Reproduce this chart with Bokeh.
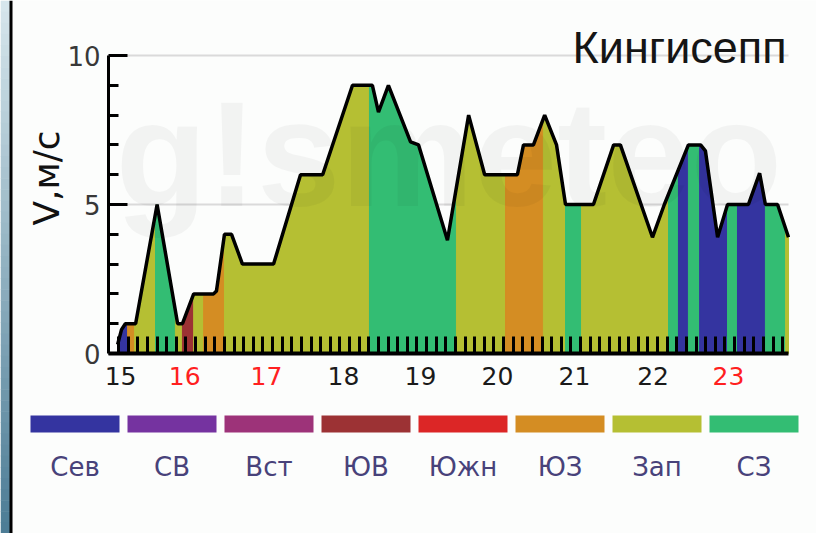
import numpy as np
from bokeh.plotting import figure
from bokeh.models import Range1d, FixedTicker, ColumnDataSource
from bokeh.embed import file_html
from bokeh.resources import INLINE
from bokeh.core.properties import value

# ---- data ----
# wind speed outline: hours since the 15th 00:00, speed in m/s
speed_hours = [1.6, 2.8, 4.0, 7.2, 13.9, 20.3, 21.8, 25.3, 31.5, 32.4,
               34.9, 37.1, 40.5, 50.2, 58.6, 65.5, 74.8, 81.0, 82.9, 86.0,
               92.9, 95.4, 104.4, 111.0, 116.0, 126.2, 128.1, 131.2, 134.7, 138.4,
               141.2, 149.9, 156.2, 158.3, 168.3, 172.0, 179.5, 183.3, 184.8, 188.6,
               191.7, 198.2, 201.7, 203.5, 207.3, 210.7]
speed_ms = [0.3, 0.8, 1.0, 1.0, 5.0, 1.0, 1.0, 2.0, 2.0, 2.1,
            4.0, 4.0, 3.0, 3.0, 6.0, 6.0, 9.0, 9.0, 8.1, 9.0,
            7.1, 7.0, 3.8, 8.0, 6.0, 6.0, 7.0, 7.0, 8.0, 7.0,
            5.0, 5.0, 7.0, 7.0, 3.9, 5.0, 7.0, 7.0, 6.8, 3.9,
            5.0, 5.0, 6.05, 5.0, 5.0, 3.9]

# wind direction bands: start hour and direction
dir_start = [1.6, 4.7, 6.9, 13.4, 19.6, 21.8, 25.3, 28.4, 34.9, 80.1,
             107.2, 122.5, 134.3, 141.2, 146.2, 173.3, 176.4, 179.5, 183.0, 191.7,
             194.8, 203.5, 209.8]
dir_name = ["Сев", "ЮЗ", "Зап", "СЗ", "Зап", "ЮВ", "Зап", "ЮЗ", "Зап", "СЗ",
            "Зап", "ЮЗ", "Зап", "СЗ", "Зап", "СЗ", "Сев", "СЗ", "Сев", "СЗ",
            "Сев", "СЗ", "Зап"]

# legend categories and colours
legend_names = ["Сев", "СВ", "Вст", "ЮВ", "Южн", "ЮЗ", "Зап", "СЗ"]
legend_colors = ["#3434a0", "#7533a0", "#9d3379", "#9c3234", "#dc2626",
                 "#d48d23", "#b5bf33", "#33bd73"]

# day tick labels (hour positions) and colours (weekends red)
day_labels = ["15", "16", "17", "18", "19", "20", "21", "22", "23"]
day_hours = [2.5, 22.5, 48, 72, 96, 120, 144, 168.5, 192]
day_colors = ["#1a1a1a", "#ff2020", "#ff2020", "#1a1a1a", "#1a1a1a",
              "#1a1a1a", "#1a1a1a", "#1a1a1a", "#ff2020"]

# y ticks
y_major = [0, 5, 10]
y_minor = [1, 2, 3, 4, 6, 7, 8, 9]
grid_values = [5, 10]

# observation ticks every 3 hours
obs_step = 3.0
obs_first = 1.9

# ---- layout constants (pixels) ----
W, H = 816, 533
X_LO, X_HI = -1.25, 210.7          # hour span of the chart frame
PX_L, PX_R = 108, 788              # its pixel span
PX_Y0, PX_Y10 = 353, 55            # pixel rows of 0 and 10 m/s
pph = (PX_R - PX_L) / (X_HI - X_LO)
ppv = (PX_Y0 - PX_Y10) / 10.0

BG = "#fcfdfc"
DIR_COLORS = dict(zip(legend_names, legend_colors))

p = figure(width=W, height=H, output_backend="svg", toolbar_location=None,
           x_range=Range1d(X_LO - PX_L / pph, X_HI + (W - PX_R) / pph),
           y_range=Range1d(-(H - PX_Y0) / ppv, 10 + PX_Y10 / ppv),
           min_border=0, background_fill_color=BG, border_fill_color=BG,
           outline_line_color=None)
p.extra_x_ranges = {"px": Range1d(0, W), "leg": Range1d(-74.5 / 97, (W - 74.5) / 97)}
p.extra_y_ranges = {"px": Range1d(H, 0)}
p.grid.visible = False

# grid lines at 5 and 10
p.segment(x0=X_LO, x1=X_HI, y0=grid_values, y1=grid_values,
          line_color="#dadada", line_width=2)

# coloured bands under the curve
hours = np.array(speed_hours)
speeds = np.array(speed_ms)
ends = dir_start[1:] + [speed_hours[-1]]
bx, by, bc = [], [], []
for s, e, name in zip(dir_start, ends, dir_name):
    inner = hours[(hours > s) & (hours < e)]
    xs = np.concatenate([[s], inner, [e]])
    ys = np.interp(xs, hours, speeds)
    bx.append(list(np.concatenate([[s], xs, [e]])))
    by.append(list(np.concatenate([[0.0], ys, [0.0]])))
    bc.append(DIR_COLORS[name])
p.patches(xs="xs", ys="ys", fill_color="c", line_color="c", line_width=1,
          source=ColumnDataSource(dict(xs=bx, ys=by, c=bc)))

p.line(speed_hours, speed_ms, line_width=3.5, line_color="black")

# watermark
p.text(x=[0.9], y=[6.68], text=["g!smeteo"], text_font=value("Liberation Sans"),
       text_font_style="bold", text_font_size="150px", text_color="black",
       text_alpha=0.04, text_align="left", text_baseline="alphabetic")

# axes placed at the chart's own edges
tick_hours = list(np.arange(obs_first, speed_hours[-1] + 0.01, obs_step))
xa = p.xaxis[0]
xa.fixed_location = 0
xa.bounds = (X_LO, X_HI)
xa.ticker = FixedTicker(ticks=[], minor_ticks=tick_hours)
xa.minor_tick_in = 17
xa.minor_tick_out = 0
xa.minor_tick_line_width = 3
xa.minor_tick_line_color = "black"
xa.major_tick_line_color = None
xa.axis_line_width = 4
xa.axis_line_color = "black"

ya = p.yaxis[0]
ya.fixed_location = X_LO
ya.bounds = (0, 10)
ya.ticker = FixedTicker(ticks=y_major, minor_ticks=y_minor)
ya.major_tick_in = 19
ya.major_tick_out = 0
ya.minor_tick_in = 10
ya.minor_tick_out = 0
ya.major_tick_line_width = 3
ya.minor_tick_line_width = 3
ya.major_tick_line_color = "black"
ya.minor_tick_line_color = "black"
ya.axis_line_width = 3
ya.axis_line_color = "black"
ya.major_label_text_font = "DejaVu Sans"
ya.major_label_text_font_size = "26px"
ya.major_label_text_color = "#383838"
ya.major_label_standoff = 8

# day labels
p.text(x=day_hours, y=[-0.77] * len(day_hours), text=day_labels,
       text_color=day_colors, text_align="center", text_baseline="middle",
       text_font=value("DejaVu Sans"), text_font_size="25px")

# title and y axis title
p.text(x=[210.1], y=[10.27], text=["Кингисепп"], text_align="right",
       text_baseline="alphabetic", text_font=value("Liberation Sans"),
       text_font_size="45px", text_color="#151515")
p.text(x=[-20.6], y=[5.89], text=["V,м/с"], angle=np.pi / 2,
       text_align="center", text_baseline="middle",
       text_font=value("DejaVu Sans"), text_font_size="36px",
       text_color="#111111")

# legend
n = len(legend_names)
idx = list(range(n))
p.quad(left=[i - 0.4588 for i in idx], right=[i + 0.4588 for i in idx],
       top=415, bottom=432, fill_color=legend_colors, line_color=None,
       x_range_name="leg", y_range_name="px")
p.text(x=idx, y=[466] * n, text=legend_names, text_align="center",
       text_baseline="middle", text_font=value("DejaVu Sans"),
       text_font_size="26px", text_color="#48427a",
       x_range_name="leg", y_range_name="px")

# left frame edge: bluish gradient and black rule
nb = 48
g = np.linspace(0, 1, nb)
top_c = np.array([214, 230, 236])
bot_c = np.array([77, 125, 150])
cols = (top_c[None, :] * (1 - g[:, None]) + bot_c[None, :] * g[:, None]).astype(int)
grad_colors = ["#%02x%02x%02x" % tuple(c) for c in cols]
edges = np.linspace(0, H, nb + 1)
p.quad(left=0, right=9.5, top=edges[:-1], bottom=edges[1:] + 0.5,
       fill_color=grad_colors, line_color=None,
       x_range_name="px", y_range_name="px")
p.quad(left=[9], right=[12], top=[0], bottom=[H], fill_color="black",
       line_color=None, x_range_name="px", y_range_name="px")

open("out.html", "w").write(file_html(p, INLINE))
